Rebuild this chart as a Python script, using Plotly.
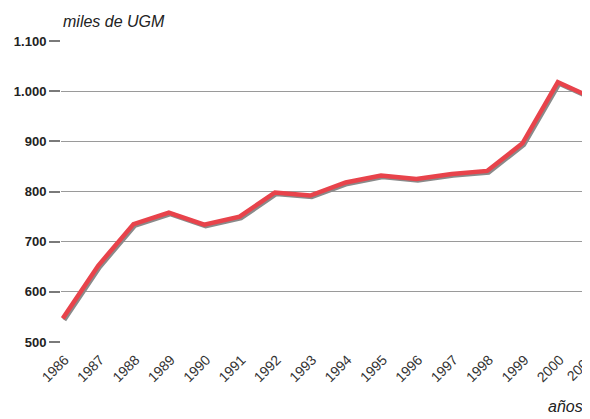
import plotly.graph_objects as go

# data (thousands of UGM per year)
years = [1986, 1987, 1988, 1989, 1990, 1991, 1992, 1993,
         1994, 1995, 1996, 1997, 1998, 1999, 2000, 2001]
ugm = [547, 652, 735, 758, 734, 750, 798, 792,
       818, 832, 825, 835, 841, 896, 1018, 986]
y_ticks = [500, 600, 700, 800, 900, 1000, 1100]

X_RANGE = [1985.95, 2000.91]
Y_RANGE = [498, 1102]
# shadow shift, in axis units (about 1.5 px right and down)
DX = 0.042
DY = 3

# the page body adds an 8px margin, so the figure is 8px smaller
W, H = 582, 411

fig = go.Figure()

# grey drop shadow on the hidden base axes
fig.add_trace(go.Scatter(
    x=years, y=ugm, mode="lines", xaxis="x", yaxis="y",
    line=dict(color="#8a8a8a", width=4.5), hoverinfo="skip",
    showlegend=False,
))
# red series on the visible overlay axes
fig.add_trace(go.Scatter(
    x=years, y=ugm, mode="lines", xaxis="x2", yaxis="y2",
    line=dict(color="#e8434b", width=4.5),
    showlegend=False,
))

# last year's label falls past the right edge, place it by the axis scale
last_x = (years[-1] - X_RANGE[0]) / (X_RANGE[1] - X_RANGE[0])

fig.update_layout(
    width=W, height=H,
    margin=dict(l=53, r=0, t=32, b=76, autoexpand=False),
    paper_bgcolor="white", plot_bgcolor="white",
    font=dict(family="Liberation Sans, Arial, sans-serif", color="#222"),
    separators=",.",
    xaxis=dict(range=[X_RANGE[0] - DX, X_RANGE[1] - DX], visible=False,
               automargin=False),
    yaxis=dict(range=[Y_RANGE[0] + DY, Y_RANGE[1] + DY], visible=False,
               automargin=False),
    xaxis2=dict(
        range=X_RANGE, overlaying="x", side="bottom", automargin=False,
        tickvals=years, tickangle=-45, showgrid=False, zeroline=False,
        ticks="", tickfont=dict(size=14, color="#333"),
        ticklabelshift=2, ticklabelstandoff=5,
    ),
    yaxis2=dict(
        range=Y_RANGE, overlaying="y", side="left", automargin=False,
        tickvals=y_ticks, tickformat=",d", separatethousands=True,
        showgrid=True, gridcolor="#9a9a9a", gridwidth=1, zeroline=False,
        ticks="outside", ticklen=11, tickwidth=2, tickcolor="#7a7a7a",
        tickfont=dict(size=13, color="#222", weight="bold"),
    ),
    annotations=[
        dict(text="<i>miles de UGM</i>", xref="paper", yref="paper",
             x=0, y=1, xanchor="left", yanchor="bottom", xshift=0, yshift=8,
             showarrow=False, font=dict(size=16, color="#222")),
        dict(text="<i>años</i>", xref="paper", yref="paper",
             x=1, y=0, xanchor="right", yanchor="middle", xshift=-5, yshift=-63,
             showarrow=False, font=dict(size=16, color="#222")),
        dict(text=str(years[-1]), xref="paper", yref="paper",
             x=last_x, y=0, xanchor="right", yanchor="top",
             xshift=7, yshift=-5, textangle=-45,
             showarrow=False, font=dict(size=14, color="#333")),
    ],
)

fig.write_html("out.html")
